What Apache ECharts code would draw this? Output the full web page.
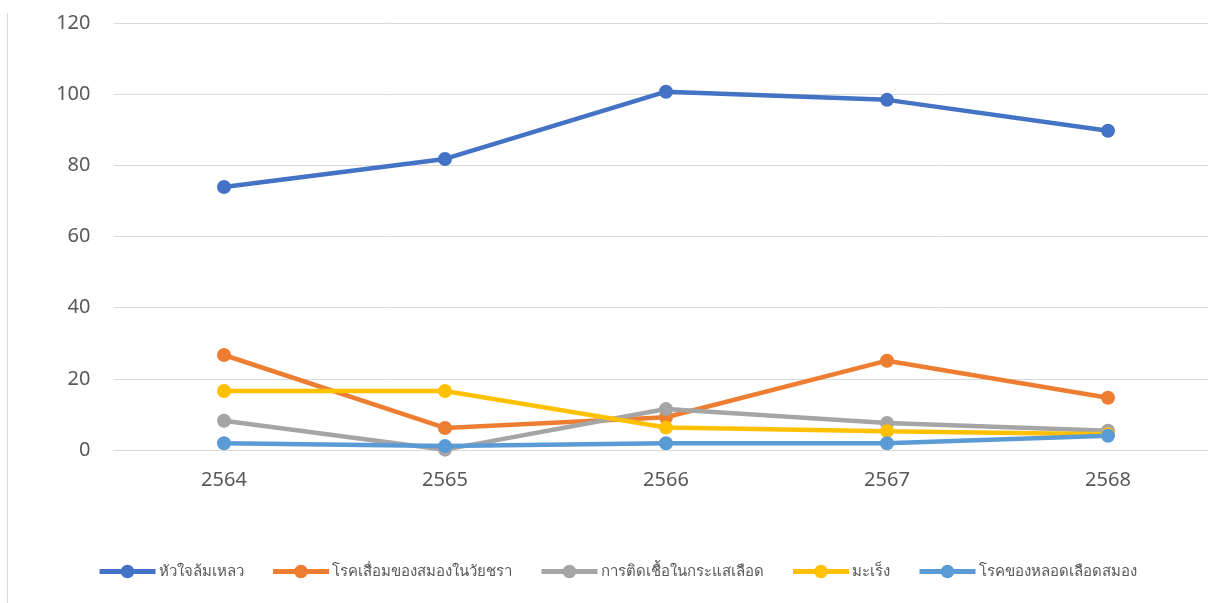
<!DOCTYPE html>
<html>
<head>
<meta charset="utf-8">
<script src="https://cdn.jsdelivr.net/npm/echarts@6/dist/echarts.min.js"></script>
<style>
html,body{margin:0;padding:0;background:#fff;overflow:hidden;width:1208px;height:603px;}
#chart{width:1219px;height:603px;}
</style>
</head>
<body>
<div id="chart"></div>
<script>
const categories = ['2564', '2565', '2566', '2567', '2568'];
const seriesNames = ['หัวใจล้มเหลว', 'โรคเสื่อมของสมองในวัยชรา', 'การติดเชื้อในกระแสเลือด', 'มะเร็ง', 'โรคของหลอดเลือดสมอง'];
const heartFailure = [73.9, 81.8, 100.7, 98.4, 89.7];
const dementia = [26.7, 6.2, 9.2, 25.1, 14.7];
const sepsis = [8.2, 0.1, 11.5, 7.6, 5.4];
const cancer = [16.6, 16.6, 6.3, 5.3, 4.4];
const stroke = [1.9, 1.1, 1.9, 1.9, 4.0];
const yTicks = [0, 20, 40, 60, 80, 100, 120];
const colors = ['#4472C4', '#ED7D31', '#A5A5A5', '#FFC000', '#5B9BD5'];
const allData = [heartFailure, dementia, sepsis, cancer, stroke];

const font = "'Noto Sans', 'Open Sans', sans-serif";
const chart = echarts.init(document.getElementById('chart'));
chart.setOption({
  animation: false,
  textStyle: { fontFamily: font },
  grid: { left: 113.5, right: 0.5, top: 23, bottom: 153, containLabel: false },
  xAxis: {
    type: 'category',
    data: categories,
    boundaryGap: true,
    axisLine: { show: true, lineStyle: { color: '#d9d9d9', width: 1 } },
    axisTick: { show: false },
    axisLabel: { color: '#595959', fontSize: 20, margin: 20, fontFamily: font }
  },
  yAxis: {
    type: 'value',
    min: yTicks[0],
    max: yTicks[yTicks.length - 1],
    interval: 20,
    axisLine: { show: false },
    axisTick: { show: false },
    axisLabel: { color: '#595959', fontSize: 20, margin: 23, fontFamily: font },
    splitLine: { lineStyle: { color: '#d9d9d9', width: 1 } }
  },
  legend: {
    bottom: 19,
    left: 92,
    itemWidth: 56,
    itemHeight: 17,
    itemGap: 27,
    lineStyle: { width: 5 },
    textStyle: { color: '#595959', fontSize: 15, fontFamily: font, padding: [0, 0, 0, -2] },
    data: seriesNames
  },
  graphic: [{
    type: 'line',
    shape: { x1: 7.5, y1: 13, x2: 7.5, y2: 603 },
    style: { stroke: '#d9d9d9', lineWidth: 1 }
  }],
  series: seriesNames.map((name, i) => ({
    name: name,
    type: 'line',
    data: allData[i],
    symbol: 'circle',
    symbolSize: 14,
    color: colors[i],
    lineStyle: { width: 4.5, color: colors[i] },
    itemStyle: { color: colors[i] }
  }))
});
</script>
</body>
</html>
